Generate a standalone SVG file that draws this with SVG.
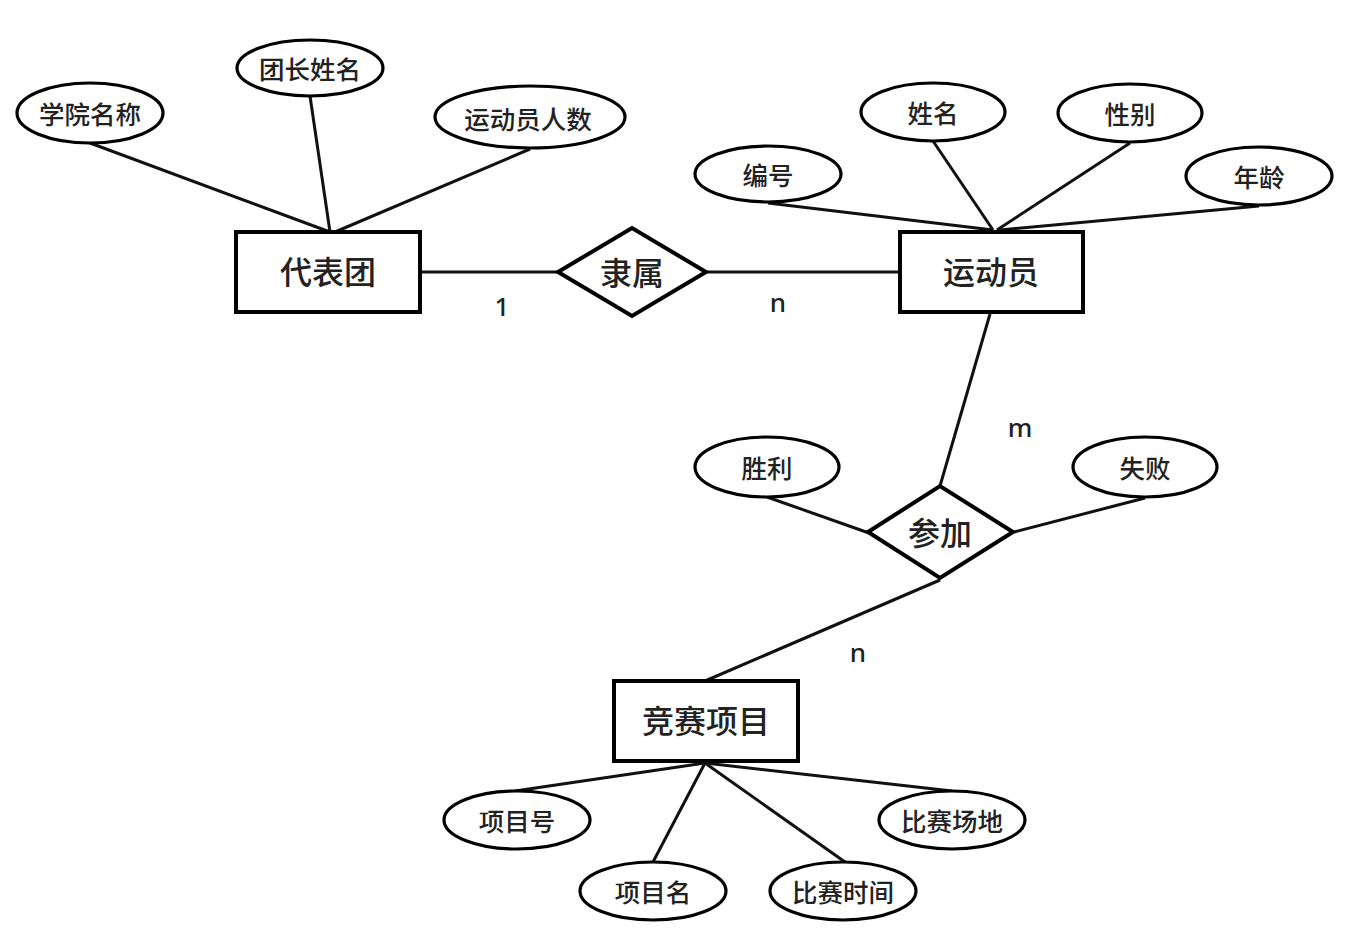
<svg xmlns="http://www.w3.org/2000/svg" width="1352" height="945" viewBox="0 0 1352 945">
<style>
.e{fill:#fff;stroke:#000;stroke-width:3.2}
.r{fill:#fff;stroke:#000;stroke-width:4}
.l{stroke:#111;stroke-width:3;fill:none}
.t{font-family:"Noto Sans CJK SC","Noto Sans",sans-serif;font-size:25.5px;font-weight:500;fill:#222;text-anchor:middle;dominant-baseline:central}
.b{font-size:32px;font-weight:500}
.c{font-family:"Noto Sans","DejaVu Sans",sans-serif;font-size:26px;font-weight:500;fill:#222;text-anchor:middle;dominant-baseline:central}
</style>
<rect width="1352" height="945" fill="#fff"/>
<g id="connectors">
<line class="l" x1="90" y1="143" x2="330" y2="232"/>
<line class="l" x1="310" y1="96" x2="330" y2="232"/>
<line class="l" x1="530" y1="149" x2="335" y2="232"/>
<line class="l" x1="420" y1="272" x2="558" y2="272"/>
<line class="l" x1="706" y1="272" x2="900" y2="272"/>
<line class="l" x1="768" y1="203" x2="993" y2="230"/>
<line class="l" x1="933" y1="141" x2="993" y2="230"/>
<line class="l" x1="1130" y1="143" x2="997" y2="230"/>
<line class="l" x1="1259" y1="206" x2="1000" y2="230"/>
<line class="l" x1="990" y1="314" x2="940" y2="486"/>
<line class="l" x1="767" y1="497" x2="869" y2="533"/>
<line class="l" x1="1145" y1="498" x2="1014" y2="532"/>
<line class="l" x1="940" y1="580" x2="705" y2="681"/>
<line class="l" x1="705" y1="763" x2="515" y2="791"/>
<line class="l" x1="705" y1="763" x2="653" y2="862"/>
<line class="l" x1="705" y1="763" x2="845" y2="862"/>
<line class="l" x1="705" y1="763" x2="952" y2="791"/>
</g>
<g id="labels">
<text class="c" x="502" y="306">1</text>
<text class="c" x="778" y="302">n</text>
<text class="c" x="1020" y="427">m</text>
<text class="c" x="858" y="652">n</text>
</g>
<g id="daibiaotuan"><rect class="r" x="236" y="232" width="184" height="80"/><text class="t b" x="328" y="270">代表团</text></g>
<g id="lishu"><polygon class="r" points="558,272 632,228 706,272 632,316"/><text class="t b" x="632" y="271">隶属</text></g>
<g id="yundongyuan"><rect class="r" x="900" y="232" width="183" height="80"/><text class="t b" x="991" y="270">运动员</text></g>
<g id="canjia"><polygon class="r" points="868,532 940,486 1013,532 940,578"/><text class="t b" x="940" y="531">参加</text></g>
<g id="jingsaixiangmu"><rect class="r" x="614" y="681" width="184" height="80"/><text class="t b" x="706" y="719">竞赛项目</text></g>
<g id="xueyuanmingcheng"><ellipse class="e" cx="90" cy="113" rx="73" ry="30"/><text class="t" x="90" y="112">学院名称</text></g>
<g id="tuanzhangxingming"><ellipse class="e" cx="310" cy="68" rx="73" ry="28"/><text class="t" x="310" y="67">团长姓名</text></g>
<g id="yundongyuanrenshu"><ellipse class="e" cx="530" cy="117" rx="95" ry="31"/><text class="t" x="528" y="117">运动员人数</text></g>
<g id="bianhao"><ellipse class="e" cx="768" cy="174" rx="73" ry="28"/><text class="t" x="768" y="173">编号</text></g>
<g id="xingming"><ellipse class="e" cx="933" cy="112" rx="72" ry="29"/><text class="t" x="933" y="111">姓名</text></g>
<g id="xingbie"><ellipse class="e" cx="1130" cy="113" rx="72" ry="29"/><text class="t" x="1130" y="112">性别</text></g>
<g id="nianling"><ellipse class="e" cx="1259" cy="176" rx="73" ry="29"/><text class="t" x="1259" y="175">年龄</text></g>
<g id="shengli"><ellipse class="e" cx="767" cy="467" rx="72" ry="30"/><text class="t" x="767" y="466">胜利</text></g>
<g id="shibai"><ellipse class="e" cx="1145" cy="467" rx="72" ry="30"/><text class="t" x="1145" y="466">失败</text></g>
<g id="xiangmuhao"><ellipse class="e" cx="517" cy="820" rx="73" ry="29"/><text class="t" x="517" y="819">项目号</text></g>
<g id="xiangmuming"><ellipse class="e" cx="653" cy="891" rx="73" ry="29"/><text class="t" x="653" y="890">项目名</text></g>
<g id="bisaishijian"><ellipse class="e" cx="843" cy="891" rx="73" ry="29"/><text class="t" x="843" y="890">比赛时间</text></g>
<g id="bisaichangdi"><ellipse class="e" cx="952" cy="820" rx="73" ry="29"/><text class="t" x="952" y="819">比赛场地</text></g>
</svg>
